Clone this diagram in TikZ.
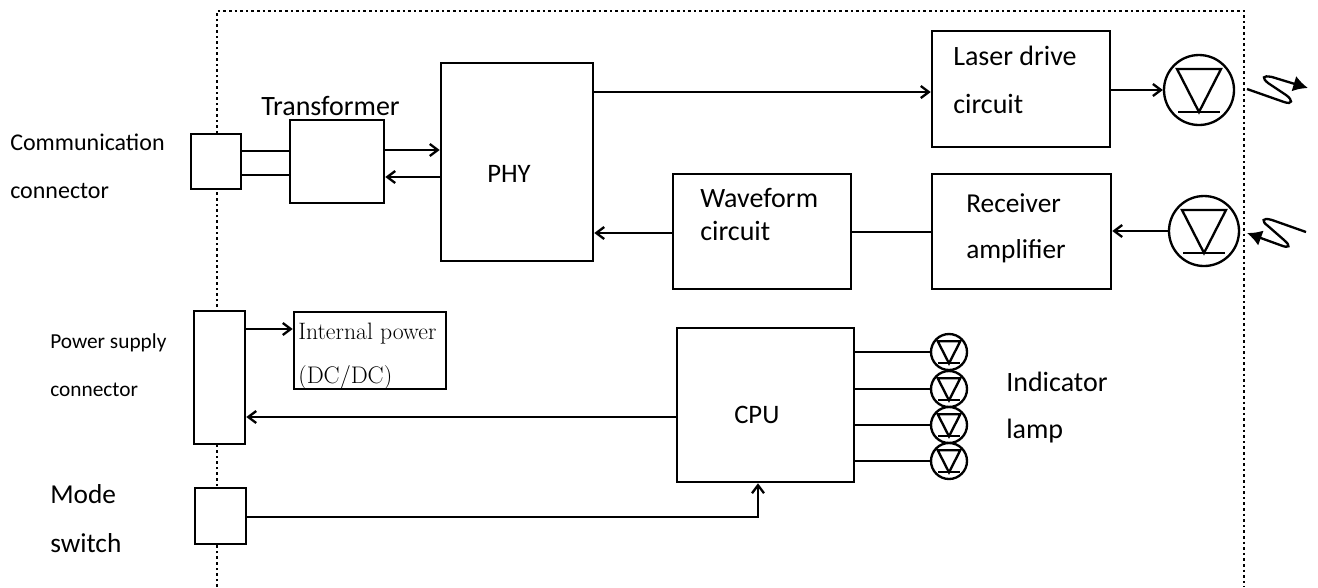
\documentclass[tikz,border=0pt]{standalone}
\usepackage{fontspec}
\setmainfont{Carlito}
\newfontfamily\lmfont{Latin Modern Roman}
\usetikzlibrary{arrows.meta}
\tikzset{
  block/.style={draw, fill=white, line width=1.9pt, inner sep=0pt},
  wire/.style={line width=1.75pt},
  lbl/.style={inner sep=0pt, anchor=base west, font=\fontsize{21}{25}\selectfont},
  small lbl/.style={lbl, font=\fontsize{18}{22}\selectfont},
  lamp/.style={circle, draw, fill=white, line width=1.75pt, inner sep=0pt, minimum size=#1,
    path picture={
      \begin{scope}[shift={(path picture bounding box.center)}, x=#1/70, y=-#1/70]
        \draw[line width=1.75pt] (-22,-21)--(22,-21)--(0,22)--cycle;
        \draw[line width=1.75pt] (-21,22)--(21,22);
      \end{scope}}},
  wave/.style={line width=1.75pt, -{Latex[length=11pt,width=12pt]}},
  >={Straight Barb[length=6pt,width=9pt,line width=1.75pt]}
}
\begin{document}
\begin{tikzpicture}[x=0.75pt,y=-0.75pt]
\useasboundingbox (0,0) rectangle (1318,587);

%frame
\draw[line width=2pt, dash pattern=on 2pt off 2.2pt] (217,587)--(217,11)--(1244,11)--(1244,587);

%connectors on the frame
\node[block, minimum width=37.5pt, minimum height=41.25pt] (commconn) at (216,161.5) {};
\node[block, minimum width=38.25pt, minimum height=99.75pt] (powerconn) at (219.5,377.5) {};
\node[block, minimum width=38.25pt, minimum height=42pt] (modesw) at (220.5,516) {};

%blocks
\node[block, minimum width=70.5pt, minimum height=62.25pt] (trans) at (337,161.5) {};
\node[block, minimum width=114pt, minimum height=148.5pt] (phy) at (517,162) {};
\node[block, minimum width=133.5pt, minimum height=87pt] (laser) at (1021,89) {};
\node[block, minimum width=133.5pt, minimum height=86.25pt] (wavef) at (762,231.5) {};
\node[block, minimum width=134.25pt, minimum height=86.25pt] (recv) at (1021.5,231.5) {};
\node[block, minimum width=114pt, minimum height=57.75pt] (intpow) at (370,350.5) {};
\node[block, minimum width=132.75pt, minimum height=115.5pt] (cpu) at (765.5,405) {};

%lamps
\node[lamp=52.5pt] (ldiode) at (1199,90) {};
\node[lamp=52.5pt] (rdiode) at (1204,231) {};
\foreach \i/\y in {1/352,2/389,3/425,4/461}
  \node[lamp=27pt] (ind\i) at (949,\y) {};

%wires
\draw[wire] (commconn.east |- 0,151)--(trans.west |- 0,151);
\draw[wire] (commconn.east |- 0,175)--(trans.west |- 0,175);
\draw[wire,->] (trans.east |- 0,150)--(phy.west |- 0,150);
\draw[wire,->] (phy.west |- 0,177)--(trans.east |- 0,177);
\draw[wire,->] (phy.east |- 0,92)--(laser.west |- 0,92);
\draw[wire,->] (laser.east |- ldiode.west)--(ldiode.west);
\draw[wire,->] (wavef.west |- 0,233)--(phy.east |- 0,233);
\draw[wire] (recv.west |- 0,232)--(wavef.east |- 0,232);
\draw[wire,->] (rdiode.west)--(recv.east |- rdiode.west);
\draw[wire,->] (powerconn.east |- 0,329)--(intpow.west |- 0,329);
\draw[wire,->] (cpu.west |- 0,417)--(powerconn.east |- 0,417);
\draw[wire,->] (modesw.east |- 0,517)-|(cpu.south -| 758,0);
\foreach \i in {1,...,4}
  \draw[wire] (cpu.east |- ind\i)--(ind\i.west);

%light waves
\coordinate (txstart) at (1247,89);
\coordinate (txend) at (1308,88);
\coordinate (rxstart) at (1306,232);
\coordinate (rxend) at (1247,233);
\draw[wave] (txstart)--(1284,102) .. controls (1293,105) and (1293,100) .. (1286,95)--(1268,83)
  .. controls (1262,78) and (1262,75) .. (1272,77)--(txend);
\draw[wave] (rxstart)--(1272,220) .. controls (1262,217) and (1261,221) .. (1268,226)--(1284,240)
  .. controls (1291,246) and (1290,249) .. (1280,245)--(rxend);

%labels
\node[small lbl] (lcomm1) at (10,150) {Communication};
\node[small lbl] (lcomm2) at (10,198) {connector};
\node[lbl, font=\fontsize{16}{19}\selectfont] (lpow1) at (50,348) {Power supply};
\node[lbl, font=\fontsize{16}{19}\selectfont] (lpow2) at (50,396) {connector};
\node[lbl, font=\fontsize{20.5}{24}\selectfont] (lmode) at (50,503) {Mode};
\node[lbl, font=\fontsize{20.5}{24}\selectfont] (lswitch) at (50,552) {switch};
\node[lbl] (ltrans) at (261,115) {Transformer};
\node[lbl, font=\fontsize{20}{24}\selectfont] (lphy) at (487,182) {PHY};
\node[lbl] (llaser1) at (953,65) {Laser drive};
\node[lbl] (llaser2) at (953,113) {circuit};
\node[lbl] (lwave1) at (700,207) {Waveform};
\node[lbl] (lwave2) at (700,240) {circuit};
\node[lbl, font=\fontsize{20.5}{24}\selectfont] (lrecv1) at (966,212) {Receiver};
\node[lbl, font=\fontsize{20.5}{24}\selectfont] (lrecv2) at (966,258) {amplifier};
\node[lbl, font=\fontsize{20}{24}\selectfont] (lcpu) at (734,423) {CPU};
\node[lbl] (lind1) at (1006,391) {Indicator};
\node[lbl] (lind2) at (1006,438) {lamp};
\node[lbl, font=\lmfont\fontsize{17.8}{22}\selectfont] (lint1) at (298,339) {Internal power};
\node[lbl, font=\lmfont\fontsize{18}{22}\selectfont] (lint2) at (298,383) {(DC/DC)};
\end{tikzpicture}
\end{document}
